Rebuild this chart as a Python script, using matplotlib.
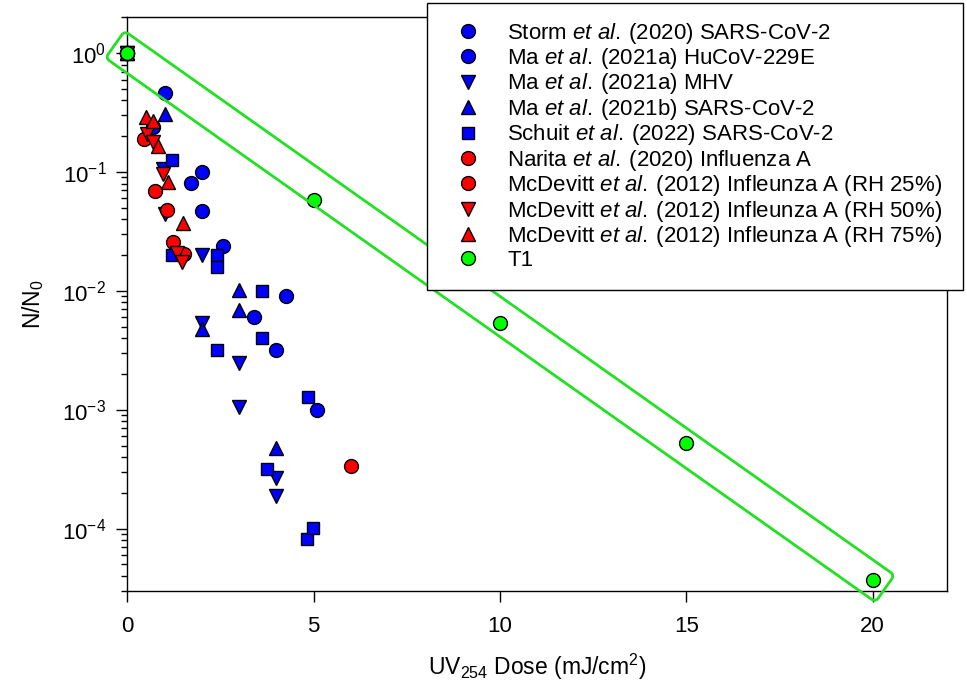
import numpy as np
import matplotlib.pyplot as plt
from matplotlib.patches import FancyBboxPatch, Rectangle
from matplotlib.transforms import Affine2D

plt.rcParams['font.family'] = ['Liberation Sans', 'DejaVu Sans']
plt.rcParams['mathtext.fontset'] = 'custom'
plt.rcParams['mathtext.rm'] = 'Liberation Sans'
plt.rcParams['mathtext.it'] = 'Liberation Sans:italic'

# UV254 dose (mJ/cm2) and surviving fraction N/N0 for each study
storm_x = [0, 0.7, 1.7, 2.56, 3.4, 5.08]
storm_y = [1, 0.24, 0.081, 0.024, 0.0060, 0.0010]

ma229e_x = [0, 1.0, 2.0, 2.0, 4.0, 4.25]
ma229e_y = [1, 0.465, 0.100, 0.047, 0.0032, 0.0091]

ma_mhv_x = [0, 0.97, 1.0, 2.0, 2.0, 3.0, 3.0, 4.0, 4.0]
ma_mhv_y = [1, 0.107, 0.044, 0.020, 0.0054, 0.00247, 0.00105, 0.000267, 0.000187]

ma_sars_x = [0, 1.0, 2.0, 3.0, 3.0, 4.0]
ma_sars_y = [1, 0.31, 0.00476, 0.0102, 0.0069, 0.00048]

schuit_x = [0, 1.19, 1.19, 2.4, 2.4, 2.4, 3.61, 3.62, 3.76, 4.84, 4.81, 4.98]
schuit_y = [1, 0.126, 0.020, 0.020, 0.016, 0.0032, 0.0100, 0.0040, 0.000318,
            0.00127, 0.000081, 0.000102]

narita_x = [0, 6.0]
narita_y = [1, 0.000334]

mcd25_x = [0, 0.46, 0.74, 1.06, 1.24, 1.53]
mcd25_y = [1, 0.188, 0.069, 0.048, 0.026, 0.0204]

mcd50_x = [0, 0.52, 0.68, 0.97, 1.34, 1.48]
mcd50_y = [1, 0.21, 0.179, 0.097, 0.021, 0.0176]

mcd75_x = [0, 0.49, 0.70, 0.83, 1.10, 1.49]
mcd75_y = [1, 0.29, 0.27, 0.165, 0.083, 0.037]

t1_x = [0, 5, 10, 15, 20]
t1_y = [1, 0.058, 0.0054, 0.00052, 3.7e-5]

etal = r'$\mathit{et\ al.}\:$'
series = [
    (storm_x, storm_y, 'o', 'blue', f'Storm {etal}(2020) SARS-CoV-2'),
    (ma229e_x, ma229e_y, 'o', 'blue', f'Ma {etal}(2021a) HuCoV-229E'),
    (ma_mhv_x, ma_mhv_y, 'v', 'blue', f'Ma {etal}(2021a) MHV'),
    (ma_sars_x, ma_sars_y, '^', 'blue', f'Ma {etal}(2021b) SARS-CoV-2'),
    (schuit_x, schuit_y, 's', 'blue', f'Schuit {etal}(2022) SARS-CoV-2'),
    (narita_x, narita_y, 'o', 'red', f'Narita {etal}(2020) Influenza A'),
    (mcd25_x, mcd25_y, 'o', 'red', f'McDevitt {etal}(2012) Infleunza A (RH 25%)'),
    (mcd50_x, mcd50_y, 'v', 'red', f'McDevitt {etal}(2012) Infleunza A (RH 50%)'),
    (mcd75_x, mcd75_y, '^', 'red', f'McDevitt {etal}(2012) Infleunza A (RH 75%)'),
    (t1_x, t1_y, 'o', '#00ff00', 'T1'),
]
msizes = {'o': 10, 'v': 10.5, '^': 10.5, 's': 8.8}

fig = plt.figure(figsize=(9.67, 6.95), dpi=100)
ax = fig.add_axes([0.1316, 0.150, 0.848, 0.825])

handles = []
for x, y, m, c, lab in series:
    h, = ax.plot(x, y, linestyle='none', marker=m, markersize=msizes[m],
                 markerfacecolor=c, markeredgecolor='black', markeredgewidth=1.0,
                 label=lab, zorder=3, clip_on=False)
    handles.append(h)

ax.set_yscale('log')
ax.set_xlim(0, 22)
ax.set_ylim(3e-5, 2)
ax.set_xticks([0, 5, 10, 15, 20])
ax.tick_params(axis='both', which='major', direction='out', length=8, width=1,
               labelsize=16, pad=7)
ax.tick_params(axis='x', pad=10)
ax.tick_params(axis='y', which='minor', direction='out', length=4, width=1)
ax.tick_params(axis='x', which='minor', bottom=False)
for s in ax.spines.values():
    s.set_linewidth(1.0)

ax.set_xlabel(r'UV$_{254}$ Dose (mJ/cm$^2$)', fontsize=16.5, labelpad=11)
ax.set_ylabel(r'N/N$_0$', fontsize=16.5, labelpad=12)

# rounded box drawn along the T1 line, built in pixel space
p0 = ax.transData.transform((t1_x[0], t1_y[0]))
p1 = ax.transData.transform((t1_x[-1], t1_y[-1]))
d = p1 - p0
length = np.hypot(*d)
theta = np.arctan2(d[1], d[0])
k = fig.dpi / 100
ext, hw, rad = 15 * k, 16.5 * k, 5 * k
box = FancyBboxPatch((-ext, -hw), length + 2 * ext, 2 * hw,
                     boxstyle=f"round,pad=0,rounding_size={rad}",
                     transform=Affine2D().rotate(theta).translate(p0[0], p0[1]),
                     fill=False, edgecolor='#22e022', linewidth=2.0,
                     zorder=4, clip_on=False)
ax.add_artist(box)

# legend frame sticks out past the top and right of the axes
frame = Rectangle((0.4419, 0.5827), 0.5543, 0.4126, transform=fig.transFigure,
                  facecolor='white', edgecolor='black', linewidth=1.0,
                  zorder=6, clip_on=False)
ax.add_artist(frame)
leg = ax.legend(handles=handles, loc='upper left',
                bbox_to_anchor=(457.0 / 967, 1 - 20.5 / 695),
                bbox_transform=fig.transFigure, frameon=False, fontsize=16,
                borderpad=0, borderaxespad=0, handlelength=1.0,
                handletextpad=1.26, labelspacing=0.02)
leg.set_zorder(7)

fig.savefig('out.png', dpi=100)
